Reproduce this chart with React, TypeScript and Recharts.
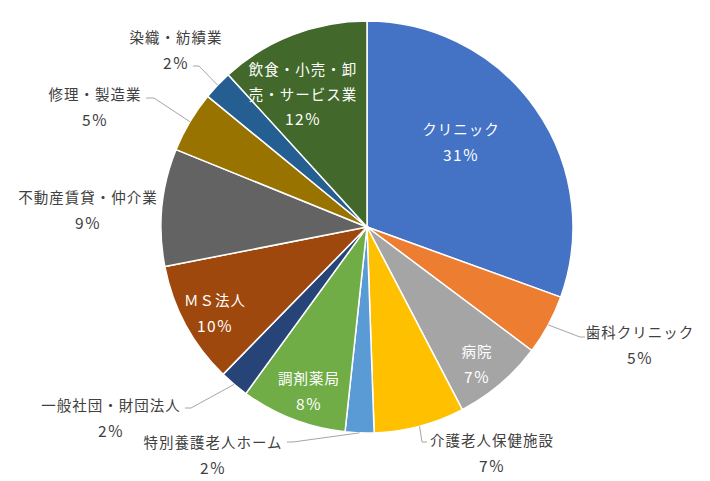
import React from 'react';
import { PieChart, Pie, Cell } from 'recharts';

// Share of each business type, clockwise from 12 o'clock
const categories = [
  'クリニック',
  '歯科クリニック',
  '病院',
  '介護老人保健施設',
  '特別養護老人ホーム',
  '調剤薬局',
  '一般社団・財団法人',
  'ＭＳ法人',
  '不動産賃貸・仲介業',
  '修理・製造業',
  '染織・紡績業',
  '飲食・小売・卸売・サービス業',
];
const values = [30.5, 4.7, 7.1, 7.1, 2.25, 8.3, 2.3, 9.6, 9.2, 4.8, 2.3, 11.75];
const pctLabels = ['31%', '5%', '7%', '7%', '2%', '8%', '2%', '10%', '9%', '5%', '2%', '12%'];
// label lines as they wrap in the original
const labelLines = [
  ['クリニック'],
  ['歯科クリニック'],
  ['病院'],
  ['介護老人保健施設'],
  ['特別養護老人ホーム'],
  ['調剤薬局'],
  ['一般社団・財団法人'],
  ['ＭＳ法人'],
  ['不動産賃貸・仲介業'],
  ['修理・製造業'],
  ['染織・紡績業'],
  ['飲食・小売・卸', '売・サービス業'],
];

const COLORS = [
  '#4472C4', '#ED7D31', '#A5A5A5', '#FFC000', '#5B9BD5', '#70AD47',
  '#264478', '#9E480E', '#636363', '#997300', '#255E91', '#43682B',
];

// label placement relative to the pie centre (Excel "best fit" look)
// inside: white text; outside: dark text + optional leader (elbow, end)
type Layout = { x: number; y: number; inside: boolean; leader?: [number, number, number, number] };
const LAYOUT: Layout[] = [
  { x: 94, y: -86, inside: true },
  { x: 273, y: 117, inside: false, leader: [213, 110, 218, 110] },
  { x: 110, y: 136, inside: true },
  { x: 125, y: 225, inside: false, leader: [55, 215, 60, 215] },
  { x: -154, y: 227, inside: false, leader: [-74, 215, -80, 215] },
  { x: -58, y: 163, inside: true },
  { x: -256, y: 190, inside: false, leader: [-176, 181, -182, 181] },
  { x: -152, y: 85, inside: true },
  { x: -279, y: -18, inside: false },
  { x: -272, y: -121, inside: false, leader: [-213, -129, -221, -129] },
  { x: -191, y: -178, inside: false, leader: [-168, -161, -174, -161] },
  { x: -64, y: -134, inside: true },
];

const data = categories.map((name, i) => ({ name, value: values[i] }));

const FONT = '"Noto Sans CJK JP", "Noto Sans", sans-serif';
const RAD = Math.PI / 180;
const LINE_H = 25;

const renderLabel = (props: any) => {
  const { cx, cy, midAngle, outerRadius, index } = props;
  const lay = LAYOUT[index];
  const lines = [...labelLines[index], pctLabels[index]];
  const top = cy + lay.y - ((lines.length - 1) * LINE_H) / 2;
  const fill = lay.inside ? '#ffffff' : '#404040';
  let leader = null;
  if (lay.leader) {
    const sx = cx + outerRadius * Math.cos(-midAngle * RAD);
    const sy = cy + outerRadius * Math.sin(-midAngle * RAD);
    const [ex, ey, hx, hy] = lay.leader;
    leader = (
      <polyline
        points={`${sx},${sy} ${cx + ex},${cy + ey} ${cx + hx},${cy + hy}`}
        fill="none"
        stroke="#a6a6a6"
        strokeWidth={1}
      />
    );
  }
  return (
    <g key={`lbl-${index}`}>
      {leader}
      {lines.map((t, j) => {
        const isPct = j === lines.length - 1;
        return (
          <text
            key={j}
            x={cx + lay.x}
            y={top + j * LINE_H}
            fill={fill}
            textAnchor="middle"
            dominantBaseline="central"
            fontSize={isPct ? 15.5 : 14.5}
            letterSpacing={isPct ? 1.5 : 1}
            fontFamily={FONT}
          >
            {t}
          </text>
        );
      })}
    </g>
  );
};

export default function App() {
  return (
    <div style={{ position: 'absolute', left: 0, top: 0, width: 710, height: 481, background: '#fff' }}>
      <PieChart width={710} height={481} margin={{ top: 0, right: 0, bottom: 0, left: 0 }}>
        <Pie
          data={data}
          dataKey="value"
          nameKey="name"
          cx={367}
          cy={227}
          outerRadius={206}
          startAngle={90}
          endAngle={-270}
          stroke="#ffffff"
          strokeWidth={1.5}
          labelLine={false}
          label={renderLabel}
          isAnimationActive={false}
        >
          {data.map((entry, i) => (
            <Cell key={`cell-${i}`} fill={COLORS[i]} />
          ))}
        </Pie>
      </PieChart>
    </div>
  );
}
